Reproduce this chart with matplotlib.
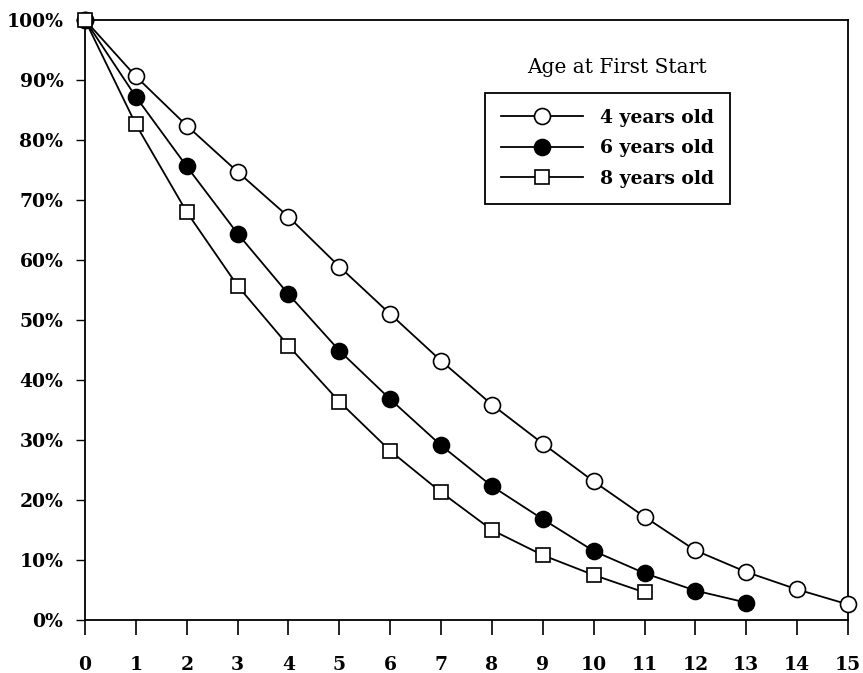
import matplotlib
matplotlib.use("Agg")
import matplotlib.pyplot as plt
from matplotlib.ticker import FuncFormatter

years = list(range(16))
labels = ["4 years old", "6 years old", "8 years old"]
four = [100, 90.6, 82.4, 74.7, 67.2, 58.9, 51.0, 43.2, 35.9, 29.4, 23.1, 17.2, 11.6, 8.0, 5.1, 2.6]
six = [100, 87.2, 75.6, 64.4, 54.3, 44.9, 36.8, 29.1, 22.3, 16.8, 11.5, 7.8, 4.9, 2.9]
eight = [100, 82.6, 68.0, 55.7, 45.7, 36.4, 28.2, 21.3, 15.0, 10.8, 7.5, 4.6]
legend_title = "Age at First Start"

plt.rcParams['font.family'] = ['DejaVu Serif']

fig = plt.figure(figsize=(8.63, 6.73), dpi=100)
ax = fig.add_axes([85/863, 53/673, 763/863, 600/673])

lw = 1.3
ax.plot(years[:len(four)], four, color='black', lw=lw, marker='o', ms=11.5,
        mfc='white', mec='black', mew=1.2, label=labels[0], clip_on=False, zorder=3)
ax.plot(years[:len(six)], six, color='black', lw=lw, marker='o', ms=11.5,
        mfc='black', mec='black', mew=1.2, label=labels[1], clip_on=False, zorder=3)
ax.plot(years[:len(eight)], eight, color='black', lw=lw, marker='s', ms=10.5,
        mfc='white', mec='black', mew=1.2, label=labels[2], clip_on=False, zorder=3)

ax.set_xlim(0, 15)
ax.set_ylim(0, 100)
ax.set_xticks(years)
ax.set_yticks(range(0, 101, 10))
ax.yaxis.set_major_formatter(FuncFormatter(lambda v, p: f"{int(v)}%"))

for s in ax.spines.values():
    s.set_linewidth(1.3)
    s.set_color('black')

ax.tick_params(axis='x', direction='out', length=11, width=1.2, pad=15, labelsize=13.5)
ax.tick_params(axis='y', direction='out', length=6.5, width=1.0, pad=9, labelsize=13.5)
for t in ax.get_xticklabels() + ax.get_yticklabels():
    t.set_fontweight('bold')

leg = ax.legend(loc='upper left', bbox_to_anchor=((485-85)/763, (620-93)/600),
                borderaxespad=0, frameon=True, fancybox=False, framealpha=1,
                edgecolor='black', handlelength=4.4, handletextpad=0.9,
                labelspacing=0.67, borderpad=0.85, prop={'size': 13.5, 'weight': 'bold'})
leg.get_frame().set_linewidth(1.3)

ax.text((616.5-85)/763, (620-68)/600, legend_title, transform=ax.transAxes,
        ha='center', va='center', fontsize=14.5)

fig.savefig("out.png", dpi=100, facecolor='white')
